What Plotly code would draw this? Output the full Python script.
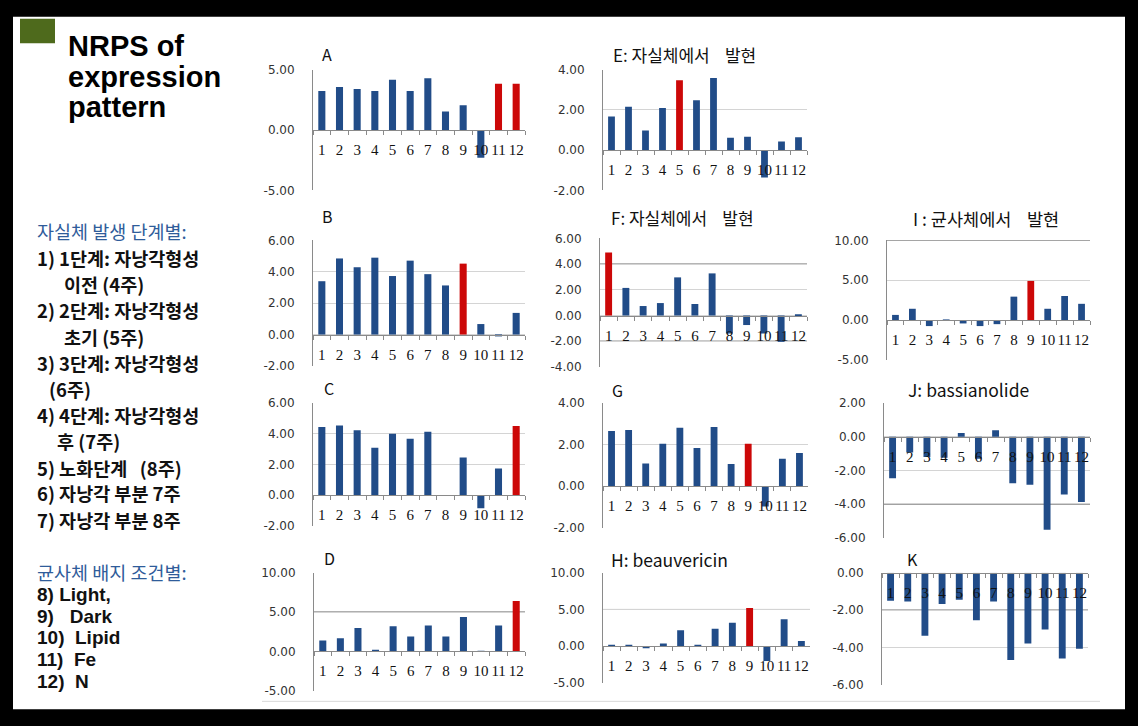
import plotly.graph_objects as go

W, H = 1138, 726

categories = ["1", "2", "3", "4", "5", "6", "7", "8", "9", "10", "11", "12"]

vals_A = [3.24, 3.57, 3.40, 3.24, 4.18, 3.24, 4.29, 1.54, 2.06, -2.30, 3.85, 3.85]
vals_B = [3.40, 4.85, 4.29, 4.90, 3.73, 4.71, 3.85, 3.13, 4.52, 0.67, -0.06, 1.38]
vals_C = [4.45, 4.55, 4.23, 3.10, 4.00, 3.68, 4.13, 0.00, 2.45, -0.85, 1.74, 4.51]
vals_D = [1.39, 1.68, 2.98, 0.10, 3.19, 1.89, 3.28, 1.89, 4.37, 0.02, 3.28, 6.43]
vals_E = [1.67, 2.16, 0.98, 2.10, 3.48, 2.49, 3.59, 0.62, 0.67, -1.36, 0.43, 0.64]
vals_F = [4.90, 2.15, 0.74, 0.97, 2.97, 0.90, 3.28, -1.40, -0.74, -1.40, -2.05, 0.10]
vals_G = [2.66, 2.71, 1.09, 2.05, 2.82, 1.84, 2.85, 1.07, 2.05, -0.98, 1.32, 1.60]
vals_H = [0.05, 0.05, -0.30, 0.35, 2.16, 0.15, 2.38, 3.20, 5.20, -2.03, 3.66, 0.70]
vals_I = [0.66, 1.43, -0.74, 0.05, -0.41, -0.74, -0.50, 2.95, 4.92, 1.43, 3.03, 2.05]
vals_J = [-2.47, -0.93, -1.20, -1.25, 0.23, -1.30, 0.39, -2.76, -2.85, -5.53, -3.44, -3.88]
vals_K = [-1.49, -1.53, -3.37, -1.67, -1.44, -2.54, -1.53, -4.68, -3.79, -3.04, -4.60, -4.07]

NB = "\u00a0"
panel_titles = {
    "A": "A", "B": "B", "C": "C", "D": "D",
    "E": "E: 자실체에서" + NB * 4 + "발현",
    "F": "F: 자실체에서" + NB * 4 + "발현",
    "G": "G",
    "H": "H: beauvericin",
    "I": "I : 균사체에서" + NB * 4 + "발현",
    "J": "J: bassianolide",
    "K": "K",
}

title_lines = ["NRPS of", "expression", "pattern"]
left_lines = [
    "자실체 발생 단계별:",
    "1) 1단계: 자낭각형성",
    "이전 (4주)",
    "2) 2단계: 자낭각형성",
    "초기 (5주)",
    "3) 3단계: 자낭각형성",
    "(6주)",
    "4) 4단계: 자낭각형성",
    "후 (7주)",
    "5) 노화단계" + NB * 3 + "(8주)",
    "6) 자낭각 부분 7주",
    "7) 자낭각 부분 8주",
    "균사체 배지 조건별:",
]
media_lines = ["8) Light,", "9)" + NB * 3 + "Dark", "10)" + NB * 2 + "Lipid", "11)" + NB * 2 + "Fe", "12)" + NB * 2 + "N"]

BLUE = "#214C88"
RED = "#CC0808"

# per panel: values, x px, y px, y range, dtick, highlighted categories, title pos, title size, dark gridlines
panels = [
    ("A", vals_A, (313, 525), (64, 187), (-5, 5), 5, [11, 12], (320, 48), 16, []),
    ("B", vals_B, (313, 525), (238, 366), (-2, 6), 2, [9], (320, 213), 16, []),
    ("C", vals_C, (313, 525), (404, 529), (-2, 6), 2, [12], (322, 388), 16, []),
    ("D", vals_D, (314, 525), (577, 697), (-5, 10), 5, [12], (322, 562), 16, [5]),
    ("E", vals_E, (603, 807), (64, 187), (-2, 4), 2, [5], (611, 48), 17, []),
    ("F", vals_F, (600, 807), (236, 367), (-4, 6), 2, [1], (609, 215), 17, [4, -2]),
    ("G", vals_G, (603, 808), (404, 531), (-2, 4), 2, [9], (610, 391), 16, []),
    ("H", vals_H, (603, 810), (577, 689), (-5, 10), 5, [9], (609, 563), 17.5, [5]),
    ("I", vals_I, (887, 1090), (238, 360), (-5, 10), 5, [9], (911, 216), 17.5, [10]),
    ("J", vals_J, (884, 1090), (404, 541), (-6, 2), 2, [], (906, 390), 17.5, [-4]),
    ("K", vals_K, (882, 1088), (577, 691), (-6, 0), 2, [], (905, 563), 16, [-2]),
]

def px_x(x):
    return x / W

def px_y(y):
    return 1 - y / H

fig = go.Figure()
layout = dict(
    width=W, height=H,
    margin=dict(l=0, r=0, t=0, b=0),
    paper_bgcolor="black",
    plot_bgcolor="rgba(0,0,0,0)",
    showlegend=False,
    bargap=0.6,
    shapes=[], annotations=[],
)

layout["shapes"].append(dict(type="rect", xref="paper", yref="paper",
                             x0=px_x(13), x1=px_x(1125), y0=px_y(716), y1=px_y(10),
                             fillcolor="white", line=dict(width=0), layer="below"))
layout["shapes"].append(dict(type="rect", xref="paper", yref="paper",
                             x0=px_x(20), x1=px_x(55), y0=px_y(37), y1=px_y(12),
                             fillcolor="#4E6A1C", line=dict(width=0), layer="below"))
layout["shapes"].append(dict(type="line", xref="paper", yref="paper",
                             x0=px_x(262), x1=px_x(1100), y0=px_y(708), y1=px_y(708),
                             line=dict(color="#d8d8d8", width=1), layer="below"))

for i, (name, vals, xd, yd, rng, dt, hl, tpos, tsize, dark) in enumerate(panels):
    n = i + 1
    xa = "x" if n == 1 else f"x{n}"
    ya = "y" if n == 1 else f"y{n}"
    colors = [RED if int(c) in hl else BLUE for c in categories]
    fig.add_trace(go.Bar(x=categories, y=vals, marker=dict(color=colors, line=dict(width=0)),
                         xaxis=xa, yaxis=ya, hoverinfo="x+y"))
    y0p, y1p = px_y(yd[1]), px_y(yd[0])
    lo, hi = rng
    zero_pos = y0p + (0 - lo) / (hi - lo) * (y1p - y0p)
    tv = [lo + k * dt for k in range(int(round((hi - lo) / dt)) + 1)]
    layout[("xaxis" if n == 1 else f"xaxis{n}")] = dict(
        domain=[px_x(xd[0]), px_x(xd[1])],
        anchor="free", position=zero_pos,
        type="category",
        tickmode="array", tickvals=categories, ticktext=categories,
        showline=True, linecolor="#8a8a8a", linewidth=1,
        ticks="outside", tickson="boundaries", ticklen=4, tickcolor="#8a8a8a",
        showgrid=False, zeroline=False,
        tickangle=0,
        tickfont=dict(family="Liberation Serif", size=15, color="#111"),
        ticklabelstandoff=6,
        fixedrange=True,
    )
    layout[("yaxis" if n == 1 else f"yaxis{n}")] = dict(
        domain=[y0p, y1p],
        anchor=xa,
        range=[lo, hi],
        tickmode="array", tickvals=tv, ticktext=[f"{v:.2f}" for v in tv],
        showline=True, linecolor="#8a8a8a", linewidth=1,
        showgrid=True, gridcolor="#d4d4d4", gridwidth=1,
        zeroline=False,
        ticks="",
        tickfont=dict(family="DejaVu Sans", size=12, color="#333"),
        ticklabelstandoff=15,
        fixedrange=True,
    )
    for dv in dark:
        layout["shapes"].append(dict(type="line", xref=f"{xa} domain", yref=ya,
                                     x0=0, x1=1, y0=dv, y1=dv,
                                     line=dict(color="#3a3a3a", width=1), layer="below"))
    layout["annotations"].append(dict(
        text=panel_titles[name], xref="paper", yref="paper",
        x=px_x(tpos[0]), y=px_y(tpos[1]), xanchor="left", yanchor="middle",
        showarrow=False,
        font=dict(family="Noto Sans CJK KR", size=tsize, color="#111"),
    ))

for j, t in enumerate(title_lines):
    layout["annotations"].append(dict(
        text=f"<b>{t}</b>", xref="paper", yref="paper",
        x=px_x(66), y=px_y(40 + 31 * j), xanchor="left", yanchor="middle",
        showarrow=False, font=dict(family="Liberation Sans", size=29, color="black"),
    ))

left_y = [228, 256, 282.7, 309.4, 336, 362.8, 389.5, 416, 443, 469.6, 496, 523, 576]
left_x = [35, 35, 62, 35, 62, 35, 47, 35, 55, 35, 35, 35, 35]
for j, t in enumerate(left_lines):
    blue = t.endswith(":")
    layout["annotations"].append(dict(
        text=t if blue else f"<b>{t}</b>", xref="paper", yref="paper",
        x=px_x(left_x[j]), y=px_y(left_y[j]), xanchor="left", yanchor="middle",
        showarrow=False,
        font=dict(family="Noto Sans CJK KR", size=18.5, color="#2F5C9A" if blue else "#111"),
    ))

media_y = [599, 621, 643, 665, 688]
for j, t in enumerate(media_lines):
    layout["annotations"].append(dict(
        text=f"<b>{t}</b>", xref="paper", yref="paper",
        x=px_x(35), y=px_y(media_y[j]), xanchor="left", yanchor="middle",
        showarrow=False, font=dict(family="Liberation Sans", size=19, color="#111"),
    ))

fig.update_layout(**layout)
fig.write_html("out.html",
               config={"displayModeBar": False},
               post_script="document.body.style.margin='0px';document.body.style.overflow='hidden';")
